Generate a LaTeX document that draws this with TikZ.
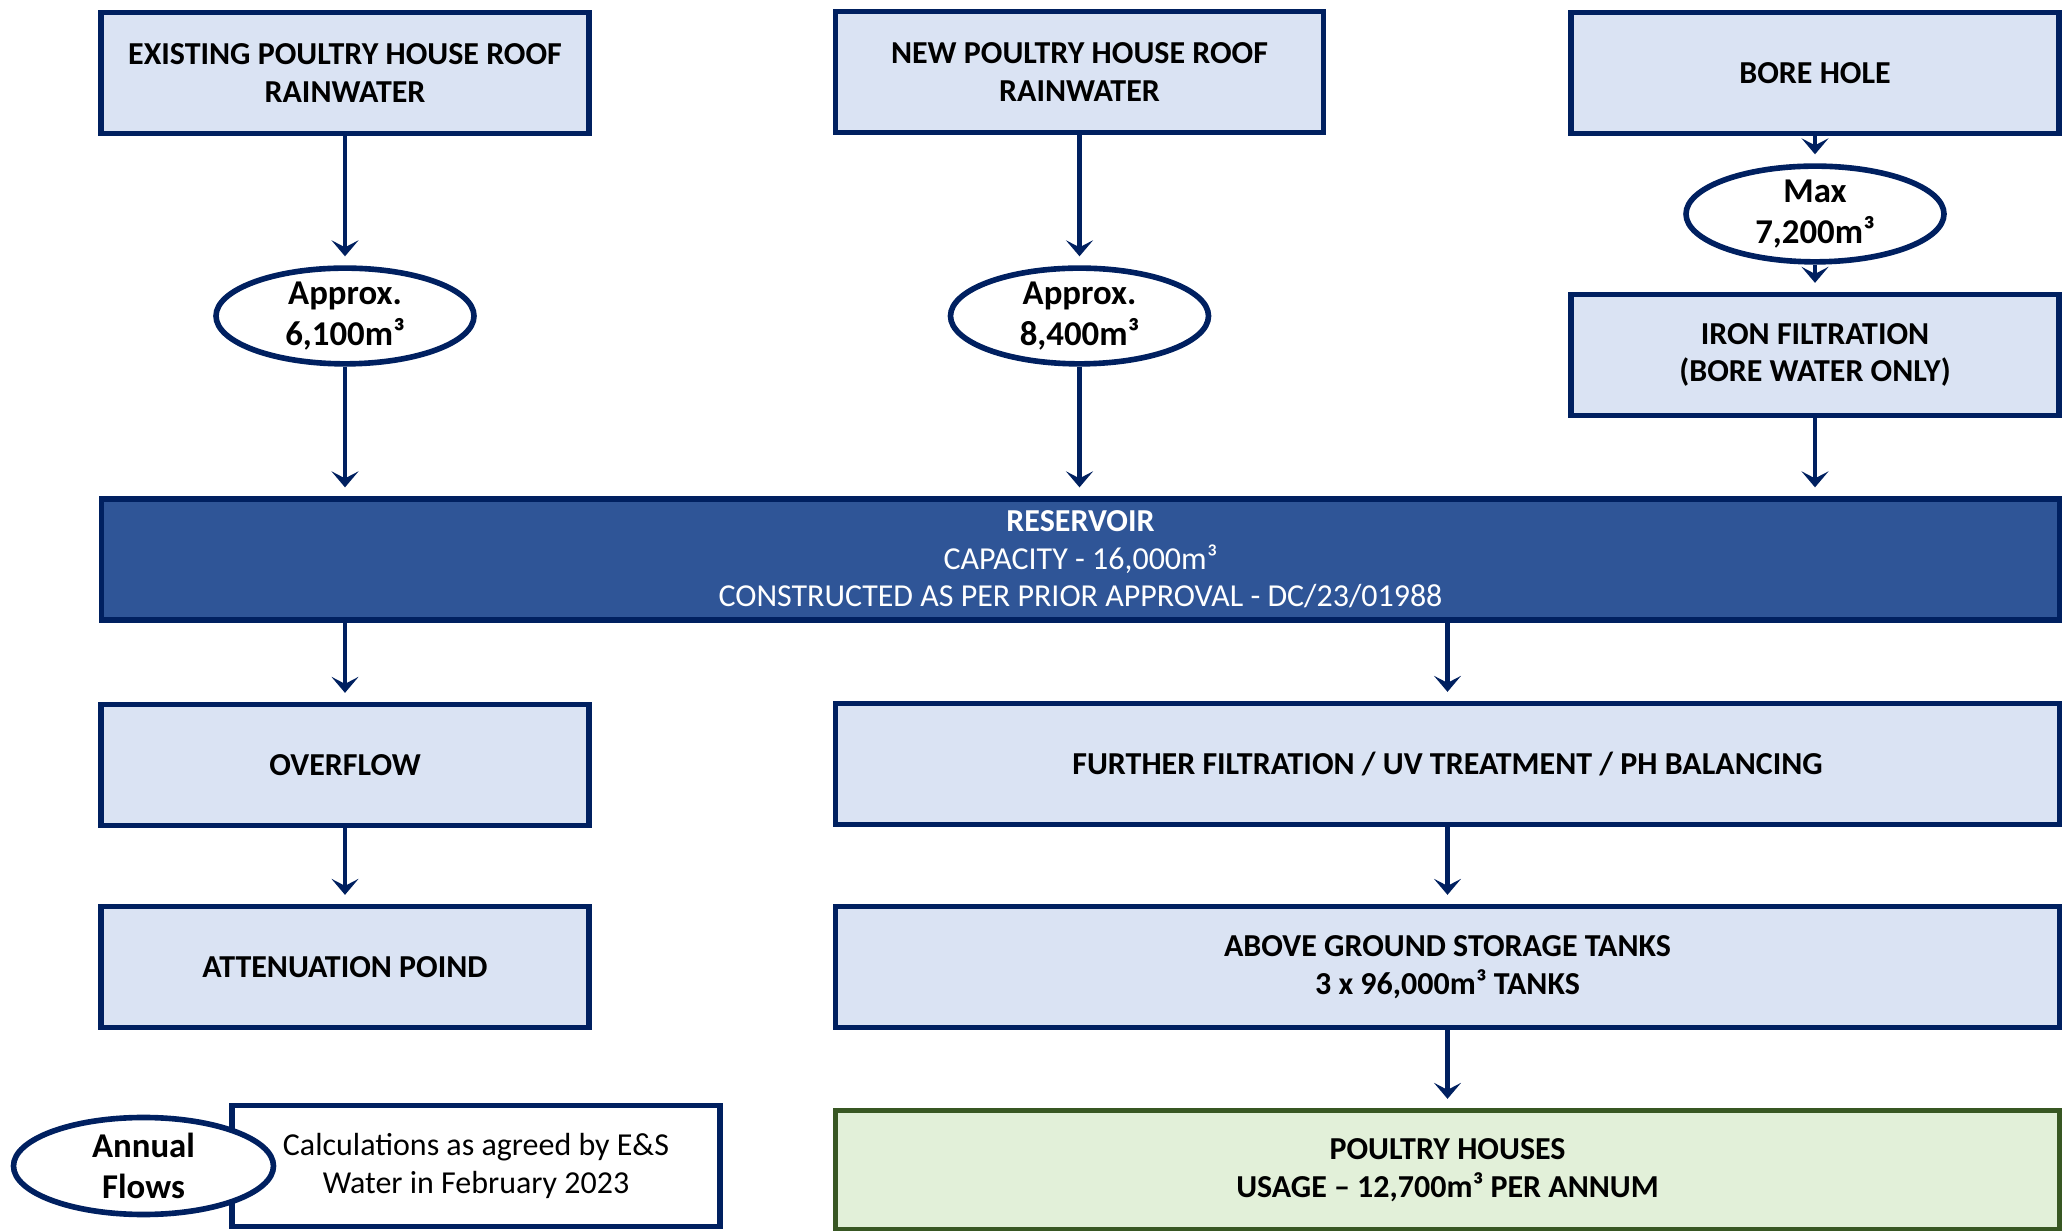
\documentclass[tikz,border=0pt]{standalone}
\usepackage{fontspec}
\setmainfont{Carlito}
\usetikzlibrary{shapes.geometric,arrows.meta}
\definecolor{navy}{HTML}{002060}
\definecolor{lightblue}{HTML}{DAE3F3}
\definecolor{resblue}{HTML}{2F5597}
\definecolor{lightgreen}{HTML}{E2F0D9}
\definecolor{darkgreen}{HTML}{385723}

\begin{document}
\begin{tikzpicture}[
		stage/.style={draw=navy, fill=lightblue, line width=1.5pt, minimum width=4.88cm, minimum height=1.21cm, align=center, font=\bfseries\fontsize{9.1}{10.7}\selectfont},
		widestage/.style={stage, minimum width=12.24cm},
		flowvol/.style={draw=navy, fill=white, ellipse, line width=1.6pt, minimum width=2.58cm, minimum height=0.95cm, inner sep=0pt, align=center, font=\bfseries\fontsize{9.9}{11.5}\selectfont},
		flow/.style={navy, line width=1.2pt, -{Stealth[length=1.6mm, width=2.7mm, inset=0.7mm]}, shorten >=0.09cm}
	]
		\useasboundingbox (0,0) rectangle (20.67,-12.31);

		\node[stage] (exist) at (3.45,-0.73) {EXISTING POULTRY HOUSE ROOF\\RAINWATER};
		\node[stage] (new) at (10.795,-0.72) {NEW POULTRY HOUSE ROOF\\RAINWATER};
		\node[stage] (bore) at (18.15,-0.73) {BORE HOLE};

		\node[flowvol] (vol1) at (3.45,-3.16) {Approx.\\6,100m³};
		\node[flowvol] (vol2) at (10.795,-3.16) {Approx.\\8,400m³};
		\node[flowvol] (volmax) at (18.15,-2.14) {Max\\7,200m³};
		\node[stage] (iron) at (18.15,-3.55) {IRON FILTRATION\\(BORE WATER ONLY)};

		\node[stage, fill=resblue, text=white, minimum width=19.58cm, font=\fontsize{9.1}{10.7}\selectfont] (res) at (10.805,-5.595)
			{\textbf{RESERVOIR}\\CAPACITY - 16,000m³\\CONSTRUCTED AS PER PRIOR APPROVAL - DC/23/01988};

		\node[stage] (over) at (3.45,-7.65) {OVERFLOW};
		\node[stage] (atten) at (3.45,-9.67) {ATTENUATION POIND};
		\node[widestage] (further) at (14.475,-7.64) {FURTHER FILTRATION / UV TREATMENT / PH BALANCING};
		\node[widestage] (tanks) at (14.475,-9.67) {ABOVE GROUND STORAGE TANKS\\3 x 96,000m³ TANKS};
		\node[widestage, draw=darkgreen, fill=lightgreen, minimum height=1.19cm] (houses) at (14.475,-11.7) {POULTRY HOUSES\\USAGE -- 12,700m³ PER ANNUM};

		% key
		\node[stage, fill=white, font=\fontsize{9.1}{10.7}\selectfont] (calc) at (4.76,-11.66) {Calculations as agreed by E\&S\\Water in February 2023};
		\node[flowvol, minimum width=2.6cm, minimum height=0.97cm] (annual) at (1.435,-11.66) {Annual\\Flows};

		\draw[flow] (exist) -- (vol1);
		\draw[flow] (new) -- (vol2);
		\draw[flow] (bore) -- (volmax);
		\draw[flow] (volmax) -- (iron);
		\draw[flow] (vol1) -- (vol1 |- res.north);
		\draw[flow] (vol2) -- (vol2 |- res.north);
		\draw[flow] (iron) -- (iron |- res.north);
		\draw[flow] (res.south -| over) -- (over);
		\draw[flow] (over) -- (atten);
		\draw[flow] (res.south -| further) -- (further);
		\draw[flow] (further) -- (tanks);
		\draw[flow] (tanks) -- (houses);
	\end{tikzpicture}
\end{document}
